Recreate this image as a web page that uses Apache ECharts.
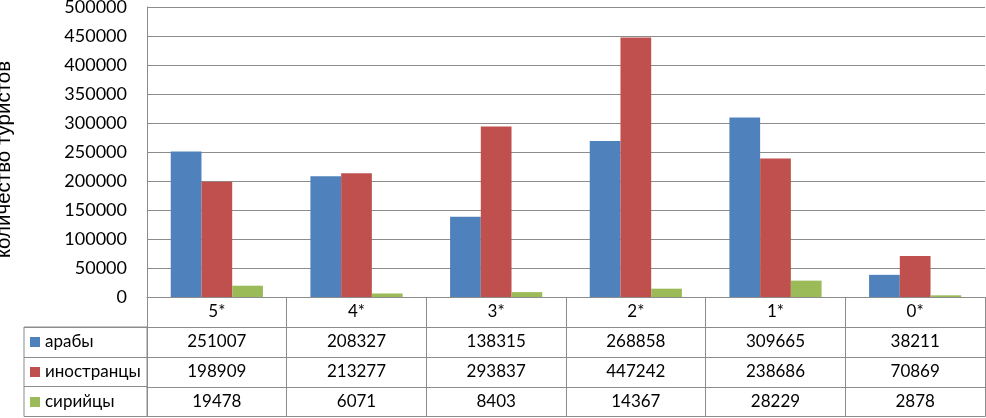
<!DOCTYPE html>
<html>
<head>
<meta charset="utf-8">
<script src="https://cdn.jsdelivr.net/npm/echarts@6/dist/echarts.min.js"></script>
<style>
  html, body { margin: 0; padding: 0; background: #fff; }
  #chart { width: 986px; height: 418px; }
</style>
</head>
<body>
<div id="chart"></div>
<script>
// categories (hotel stars)
const categories = ['5*', '4*', '3*', '2*', '1*', '0*']
const seriesNames = ['арабы', 'иностранцы', 'сирийцы']
const arabs = [251007, 208327, 138315, 268858, 309665, 38211]
const foreigners = [198909, 213277, 293837, 447242, 238686, 70869]
const syrians = [19478, 6071, 8403, 14367, 28229, 2878]
const colors = ['#4f81bd', '#c0504d', '#9bbb59']
const lineColor = '#8c8c8c'
const tableFont = 'Lato'

const rows = [arabs, foreigners, syrians]
const myChart = echarts.init(document.getElementById('chart'))

// data table rows are extra category axes pushed down with offset
const tableAxes = rows.map((row, i) => ({
  type: 'category',
  gridIndex: 0,
  position: 'bottom',
  offset: 30 * (i + 1),
  data: row.map(v => String(v)),
  axisLine: { show: true, lineStyle: { color: lineColor } },
  axisTick: { show: false },
  axisLabel: {
    margin: 5,
    fontFamily: tableFont,
    fontSize: 17,
    lineHeight: 20,
    color: '#000',
    interval: 0
  }
}))

const option = {
  animation: false,
  grid: [
    { left: 147, right: 1, top: 7, bottom: 121, outerBoundsMode: 'none' },
    {
      left: 24,
      right: 839,
      top: 327,
      bottom: 1.5,
      outerBoundsMode: 'none',
      show: true,
      borderColor: lineColor,
      borderWidth: 1
    }
  ],
  legend: {
    orient: 'vertical',
    left: 30,
    top: 332,
    padding: 0,
    itemWidth: 10,
    itemHeight: 10,
    itemGap: 10,
    icon: 'rect',
    data: seriesNames,
    textStyle: {
      fontFamily: tableFont,
      fontSize: 17,
      lineHeight: 20,
      color: '#000'
    }
  },
  xAxis: [
    {
      type: 'category',
      gridIndex: 0,
      data: categories,
      axisLine: { show: true, lineStyle: { color: lineColor } },
      axisTick: {
        show: true,
        length: 119.5,
        interval: 0,
        lineStyle: { color: lineColor }
      },
      axisLabel: {
        margin: 5,
        fontFamily: tableFont,
        fontSize: 17,
        lineHeight: 20,
        color: '#000'
      }
    },
    ...tableAxes,
    {
      // bottom border of the table
      type: 'category',
      gridIndex: 0,
      position: 'bottom',
      offset: 119.5,
      data: categories,
      axisLine: { show: true, lineStyle: { color: lineColor } },
      axisTick: { show: false },
      axisLabel: { show: false }
    },
    {
      type: 'value',
      gridIndex: 1,
      show: false
    }
  ],
  yAxis: [
    {
      type: 'value',
      gridIndex: 0,
      min: 0,
      max: 500000,
      interval: 50000,
      name: 'количество туристов',
      nameLocation: 'middle',
      nameRotate: 90,
      nameGap: 132,
      nameTextStyle: {
        fontFamily: 'Liberation Sans',
        fontSize: 20.5,
        color: '#000',
        padding: [0, 15, 0, 0]
      },
      axisLine: { show: true, lineStyle: { color: lineColor } },
      axisTick: { show: false },
      axisLabel: {
        margin: 20,
        fontFamily: tableFont,
        fontSize: 18,
        color: '#000',
        formatter: v => String(v)
      },
      splitLine: { lineStyle: { color: lineColor } }
    },
    {
      // row separators of the legend column
      type: 'category',
      gridIndex: 1,
      inverse: true,
      data: seriesNames,
      axisLine: { show: false },
      axisTick: { show: false },
      axisLabel: { show: false },
      splitLine: { show: true, interval: 0, lineStyle: { color: lineColor } }
    }
  ],
  series: rows.map((row, i) => ({
    name: seriesNames[i],
    type: 'bar',
    xAxisIndex: 0,
    yAxisIndex: 0,
    barGap: 0,
    barCategoryGap: '34%',
    itemStyle: { color: colors[i] },
    data: row
  }))
}

myChart.setOption(option)
</script>
</body>
</html>
